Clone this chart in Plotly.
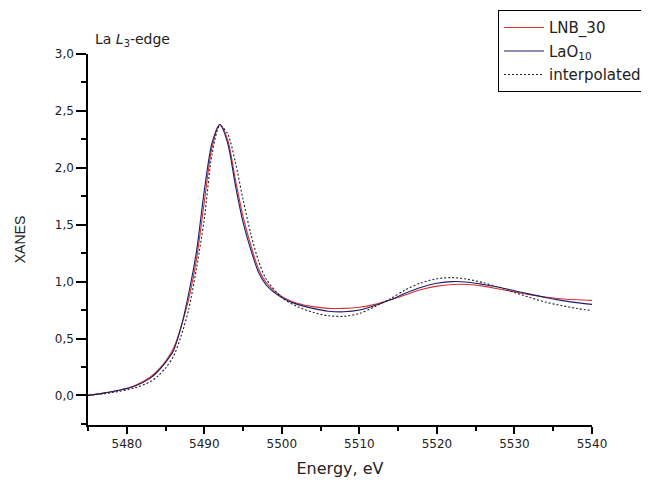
import plotly.graph_objects as go

energy = [5475, 5477, 5479, 5481, 5483, 5484, 5485, 5486, 5487, 5488, 5489, 5490, 5491, 5492,
          5493, 5494, 5495, 5496, 5497, 5498, 5500, 5502, 5504, 5506, 5508, 5510, 5512, 5514,
          5516, 5518, 5520, 5522, 5524, 5526, 5528, 5530, 5532, 5534, 5536, 5538, 5540]

lnb_30 = [0.0, 0.02, 0.045, 0.085, 0.16, 0.22, 0.30, 0.41, 0.60, 0.85, 1.20, 1.70, 2.18, 2.38,
          2.25, 1.90, 1.57, 1.32, 1.11, 0.99, 0.87, 0.81, 0.78, 0.765, 0.765, 0.775, 0.80, 0.84,
          0.885, 0.93, 0.96, 0.975, 0.975, 0.96, 0.935, 0.91, 0.885, 0.865, 0.85, 0.84, 0.835]

lao_10 = [0.0, 0.02, 0.045, 0.08, 0.15, 0.21, 0.29, 0.39, 0.60, 0.90, 1.27, 1.80, 2.22, 2.38,
          2.22, 1.85, 1.52, 1.28, 1.08, 0.97, 0.86, 0.80, 0.765, 0.74, 0.735, 0.75, 0.79, 0.84,
          0.90, 0.95, 0.985, 1.0, 0.995, 0.975, 0.95, 0.92, 0.89, 0.86, 0.835, 0.815, 0.80]

interpolated = [0.0, 0.015, 0.035, 0.065, 0.12, 0.17, 0.24, 0.34, 0.52, 0.76, 1.12, 1.55, 2.12, 2.37,
                2.30, 2.05, 1.72, 1.42, 1.18, 1.02, 0.86, 0.78, 0.73, 0.70, 0.695, 0.72, 0.78, 0.85,
                0.93, 0.99, 1.025, 1.035, 1.02, 0.99, 0.95, 0.905, 0.86, 0.82, 0.79, 0.765, 0.745]

x_ticks = [5480, 5490, 5500, 5510, 5520, 5530, 5540]
y_ticks = [0.0, 0.5, 1.0, 1.5, 2.0, 2.5, 3.0]

WIDE = "DejaVu Sans, Verdana, sans-serif"
NARROW = "Liberation Sans, Arial, sans-serif"
TXT = "#222222"

fig = go.Figure()
fig.add_trace(go.Scatter(x=energy, y=lnb_30, mode="lines", name="LNB_30", legendgroup="a",
                         line=dict(color="#d83030", width=1.1, shape="spline", smoothing=0.8)))
fig.add_trace(go.Scatter(x=energy, y=lao_10, mode="lines", name="LaO<sub>10</sub>", legendgroup="b",
                         line=dict(color="#1c1c6a", width=1.1, shape="spline", smoothing=0.8)))
fig.add_trace(go.Scatter(x=energy, y=interpolated, mode="lines", name="interpolated", legendgroup="c",
                         line=dict(color="#222222", width=1.1, dash="2px,2px", shape="spline", smoothing=0.8)))

# page body has an 8px margin, so the figure is 8px smaller and its margins 8px tighter
fig.update_layout(
    width=641, height=475,
    margin=dict(l=80, r=57, t=46, b=58, autoexpand=False),
    paper_bgcolor="white", plot_bgcolor="white",
    separators=",.",
    font=dict(family=WIDE, size=12, color=TXT),
    showlegend=True,
    legend=dict(x=0.8135, y=1.118, xanchor="left", yanchor="top", xref="paper", yref="paper",
                bordercolor="black", borderwidth=1, bgcolor="white",
                font=dict(family=WIDE, size=15, color=TXT),
                tracegroupgap=1, itemwidth=40),
    xaxis=dict(range=[5475, 5540], tickvals=x_ticks, ticks="outside", ticklen=7, tickwidth=1.5,
               tickcolor="black", showline=True, linecolor="black", linewidth=1.5, showgrid=False,
               zeroline=False, tickfont=dict(family=WIDE, size=12, color=TXT),
               minor=dict(dtick=5, tick0=5475, ticks="outside", ticklen=4, tickwidth=1.5, tickcolor="black", showgrid=False),
               title=dict(text="Energy, eV", font=dict(family=WIDE, size=16, color=TXT), standoff=13)),
    yaxis=dict(range=[-0.26, 3.0], tickvals=y_ticks, tickformat=".1f", ticks="outside", ticklen=10,
               tickwidth=1.5, tickcolor="black", showline=True, linecolor="black", linewidth=1.5,
               showgrid=False, zeroline=False, tickfont=dict(family=WIDE, size=12, color=TXT),
               minor=dict(dtick=0.25, tick0=0, ticks="outside", ticklen=5, tickwidth=1.5, tickcolor="black", showgrid=False),
               title=dict(text="XANES", font=dict(family=NARROW, size=14, color=TXT), standoff=26)),
    annotations=[dict(text="La <i>L</i><sub>3</sub>-edge", xref="paper", yref="paper",
                      x=0.01, y=1.008, xanchor="left", yanchor="bottom", showarrow=False,
                      font=dict(family=WIDE, size=14, color=TXT))],
)

fig.write_html("out.html")
